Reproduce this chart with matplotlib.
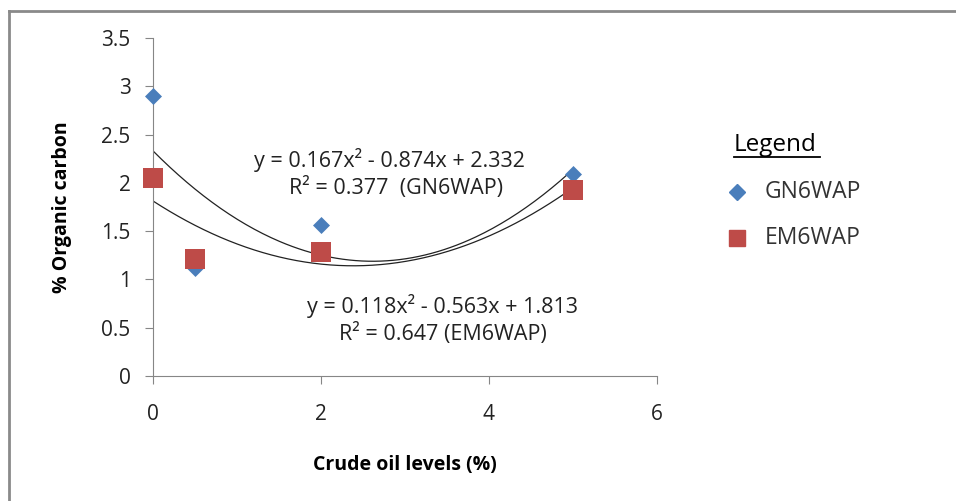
import numpy as np
import matplotlib
matplotlib.use("Agg")
import matplotlib.pyplot as plt
from matplotlib.lines import Line2D

plt.rcParams['font.family'] = ['Open Sans', 'DejaVu Sans']

# data
oil = [0, 0.5, 2, 5]
gn6wap = [2.9, 1.12, 1.56, 2.09]
em6wap = [2.05, 1.21, 1.28, 1.93]

# trendline coefficients as printed on the chart
gn_fit = [0.167, -0.874, 2.332]
em_fit = [0.118, -0.563, 1.813]

fig = plt.figure(figsize=(9.56, 5.01), dpi=100)
ax = fig.add_axes([0.160, 0.2495, 0.527, 0.6745])

xs = np.linspace(0, 5, 200)
ax.plot(xs, np.polyval(gn_fit, xs), color='#222222', lw=0.9)
ax.plot(xs, np.polyval(em_fit, xs), color='#222222', lw=0.9)

ax.scatter(oil, gn6wap, marker='D', s=75, color='#4a7ebb', zorder=3, linewidths=0, clip_on=False)
ax.scatter(oil, em6wap, marker='s', s=200, color='#be4b48', zorder=4, linewidths=0, clip_on=False)

ax.set_xlim(0, 6)
ax.set_ylim(0, 3.5)
ax.set_xticks([0, 2, 4, 6])
ax.set_yticks(np.arange(0, 3.51, 0.5))
ax.set_yticklabels(['0', '0.5', '1', '1.5', '2', '2.5', '3', '3.5'])
for s in ['top', 'right']:
    ax.spines[s].set_visible(False)
for s in ['left', 'bottom']:
    ax.spines[s].set_color('#868686')
ax.tick_params(direction='out', length=6, color='#868686', labelsize=15, labelcolor='#222222')
ax.tick_params(axis='x', pad=14)
ax.tick_params(axis='y', pad=10)

ax.set_xlabel('Crude oil levels (%)', fontsize=14, fontweight='bold', labelpad=22)
ax.set_ylabel('% Organic carbon', fontsize=14, fontweight='bold', labelpad=21)

eq = dict(ha='center', va='center', fontsize=15.5, color='#222222')
ax.text(2.82, 2.24, 'y = 0.167x² - 0.874x + 2.332', **eq)
ax.text(2.9, 1.95, 'R² = 0.377  (GN6WAP)', **eq)
ax.text(3.45, 0.72, 'y = 0.118x² - 0.563x + 1.813', **eq)
ax.text(3.45, 0.43, 'R² = 0.647 (EM6WAP)', **eq)

# legend
fig.text(734 / 956, 1 - 145 / 501, 'Legend', fontsize=17.5, va='center', ha='left')
fig.add_artist(Line2D([734 / 956, 820 / 956], [1 - 157 / 501, 1 - 157 / 501], color='black', lw=1.3))
fig.add_artist(Line2D([737 / 956], [1 - 192 / 501], marker='D', ms=8.5, color='#4a7ebb', lw=0))
fig.add_artist(Line2D([737 / 956], [1 - 238 / 501], marker='s', ms=12, color='#be4b48', lw=0))
fig.text(765 / 956, 1 - 192 / 501, 'GN6WAP', fontsize=16.5, va='center', ha='left', color='#333333')
fig.text(765 / 956, 1 - 238 / 501, 'EM6WAP', fontsize=16.5, va='center', ha='left', color='#333333')

# outer frame
fig.add_artist(Line2D([9 / 956, 1.0], [1 - 11 / 501, 1 - 11 / 501], color='#8a8a8a', lw=2))
fig.add_artist(Line2D([9 / 956, 9 / 956], [0, 1 - 11 / 501], color='#8a8a8a', lw=2))

fig.savefig('out.png', dpi=100)
